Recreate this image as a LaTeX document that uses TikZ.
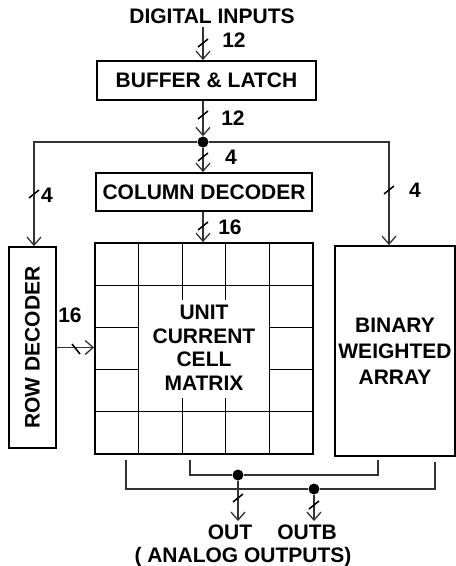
\documentclass[tikz,border=0pt]{standalone}
\usepackage{graphicx}
\usepackage{fontspec}
\setsansfont{Liberation Sans}
\usetikzlibrary{arrows.meta, positioning}

\begin{document}
\begin{tikzpicture}[x=1pt, y=-1pt, every node/.style={font=\sffamily\bfseries\fontsize{21}{23.5}\selectfont}]
    % Styles
    \tikzstyle{block} = [rectangle, draw=black, line width=1.8pt, inner sep=0pt, align=center]
    \tikzstyle{wire} = [draw=black!80, line width=1.1pt]
    \tikzstyle{feed} = [wire, -{Straight Barb[length=8pt, width=14pt, line width=1.3pt]}]
    \tikzstyle{dot} = [circle, fill=black, inner sep=0pt, minimum size=11pt]
    \tikzstyle{cell} = [black, line width=0.9pt]
    \tikzset{bus/.pic={\draw[black, line width=1.5pt] (-5,4) -- (5,-4);}}

    \useasboundingbox (0,0) rectangle (456,566);

    % Blocks
    \node (inputs) at (212,16) {DIGITAL INPUTS};
    \node[block, minimum width=219pt, minimum height=39pt] (buffer) at (206.5,80.5) {BUFFER \& LATCH};
    \node[dot] (split) at (203,142) {};
    \node[block, minimum width=216pt, minimum height=38pt] (coldec) at (204,192) {COLUMN DECODER};
    \node[block, minimum width=218pt, minimum height=211pt] (matrix) at (204,348.5) {};
    \node[align=center] (celltext) at (204,348) {UNIT\\CURRENT\\CELL\\MATRIX};
    \node[block, minimum width=47pt, minimum height=201pt] (rowdec) at (32.5,347.5) {\rotatebox{90}{ROW DECODER}};
    \node[block, minimum width=120pt, minimum height=210pt, font=\sffamily\bfseries\fontsize{21}{26}\selectfont] (binary) at (395,351) {BINARY\\WEIGHTED\\ARRAY};

    % Matrix grid
    \draw[cell] (138.6,243) -- (138.6,454) (269.4,243) -- (269.4,454);
    \draw[cell] (95,285.2) -- (313,285.2) (95,411.8) -- (313,411.8);
    \foreach \x in {182.2,225.8}
        \draw[cell] (\x,243) -- (\x,300) (\x,398) -- (\x,454);
    \foreach \y in {327.4,369.6}
        \draw[cell] (95,\y) -- (138.6,\y) (269.4,\y) -- (313,\y);

    % Arrows
    \draw[feed] (inputs.south -| split) -- (buffer.north -| split);
    \draw[feed] (buffer.south -| split) -- (split);
    \draw[feed] (split) -- (coldec.north -| split);
    \draw[feed] (coldec.south -| split) -- (matrix.north -| split);
    \draw[feed] (split) -| ([xshift=1.5pt]rowdec.north);
    \draw[feed] (split) -| ([xshift=-6pt]binary.north);
    \draw[feed] (rowdec.east) -- (rowdec.east -| matrix.west);

    % Outputs
    \node[dot] (outa) at (238,475) {};
    \node[dot] (outb) at (314,489) {};
    \draw[wire] ([shift={(-14,5)}]matrix.south) |- (outa) -| ([shift={(-17,3)}]binary.south);
    \draw[wire] ([shift={(-78,5)}]matrix.south) |- (outb) -| ([shift={(40,5)}]binary.south);
    \node (out) at (230,532) {OUT};
    \node (outbname) at (307,532) {OUTB};
    \node (analog) at (243,557) {( ANALOG OUTPUTS)};
    \draw[feed] (outa) -- (outa |- out.north);
    \draw[feed] (outb) -- (outb |- outbname.north);

    % Bus widths
    \foreach \p in {(203,43), (203,115), (203,157), (203,226), (34,194), (389,190), (238,498), (314,505)}
        \pic at \p {bus};
    \pic[rotate=90] at (76,349) {bus};
    \node (w1) at (234,40) {12};
    \node (w2) at (233,118) {12};
    \node (w3) at (231,157) {4};
    \node (w4) at (230,227) {16};
    \node (w5) at (47,195) {4};
    \node (w6) at (415,190) {4};
    \node (w7) at (70,315) {16};
\end{tikzpicture}
\end{document}
